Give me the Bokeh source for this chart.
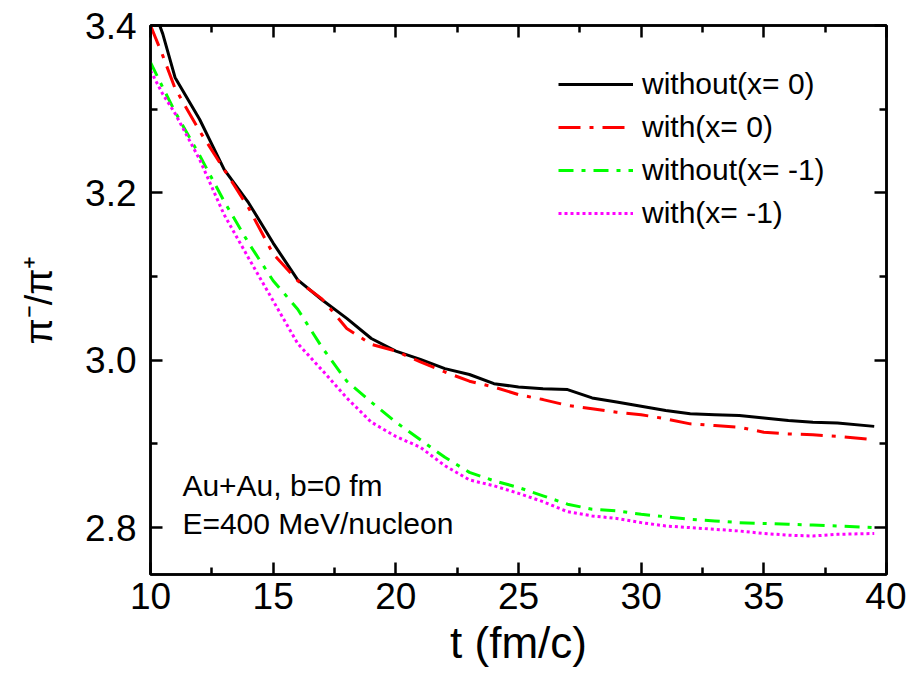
from bokeh.plotting import figure
from bokeh.models import (Range1d, FixedTicker, LinearAxis, Legend, LegendItem, Label,
                          CustomJSTickFormatter)
from bokeh.embed import file_html
from bokeh.resources import INLINE

t = [10, 10.5, 11, 12, 13, 14, 15, 16, 17, 18, 19, 20, 21, 22, 23, 24, 25, 26, 27, 28, 29,
     30, 31, 32, 33, 34, 35, 36, 37, 38, 39.5]
without_x0 = [3.43, 3.39, 3.338, 3.288, 3.228, 3.188, 3.14, 3.096, 3.072, 3.050, 3.026, 3.011,
              3.001, 2.990, 2.983, 2.972, 2.968, 2.966, 2.965, 2.955, 2.950, 2.945, 2.940, 2.936,
              2.935, 2.934, 2.931, 2.928, 2.926, 2.925, 2.921]
with_x0 = [3.40, 3.364, 3.325, 3.274, 3.228, 3.182, 3.127, 3.095, 3.073, 3.038, 3.019, 3.011,
           2.998, 2.986, 2.975, 2.968, 2.959, 2.953, 2.946, 2.942, 2.938, 2.935, 2.930, 2.924,
           2.922, 2.920, 2.914, 2.912, 2.911, 2.909, 2.905]
without_xm1 = [3.356, 3.326, 3.297, 3.245, 3.190, 3.140, 3.095, 3.061, 3.015, 2.975, 2.950, 2.926,
               2.905, 2.884, 2.866, 2.856, 2.848, 2.838, 2.828, 2.822, 2.820, 2.816, 2.813, 2.810,
               2.808, 2.806, 2.805, 2.804, 2.803, 2.802, 2.800]
with_xm1 = [3.346, 3.318, 3.295, 3.240, 3.174, 3.122, 3.071, 3.020, 2.988, 2.955, 2.926, 2.909,
            2.896, 2.874, 2.857, 2.850, 2.841, 2.831, 2.819, 2.814, 2.811, 2.806, 2.802, 2.800,
            2.798, 2.796, 2.793, 2.791, 2.790, 2.792, 2.793]

labels = ["without(x= 0)", "with(x= 0)", "without(x= -1)", "with(x= -1)"]
x_ticks = [10, 15, 20, 25, 30, 35, 40]
x_minor = [12.5, 17.5, 22.5, 27.5, 32.5, 37.5]
y_ticks = [2.8, 3.0, 3.2, 3.4]
y_minor = [2.9, 3.1, 3.3]
notes = ["Au+Au, b=0 fm", "E=400 MeV/nucleon"]

FONT = "Liberation Sans"

p = figure(width=906, height=676, output_backend="svg", toolbar_location=None,
           x_range=Range1d(10, 40), y_range=Range1d(2.744, 3.4),
           min_border_left=150, min_border_right=20, min_border_top=25, min_border_bottom=102)
p.xgrid.visible = False
p.ygrid.visible = False
p.outline_line_color = "black"
p.outline_line_width = 2.5
p.background_fill_color = "white"
p.border_fill_color = "white"

styles = [
    dict(color="black", line_width=3, line_dash="solid"),
    dict(color="#FF0000", line_width=3, line_dash="22 9 4 9"),
    dict(color="#00FF00", line_width=3, line_dash="15 8 4 8"),
    dict(color="#FF00FF", line_width=3, line_dash="3 3"),
]
series = [without_x0, with_x0, without_xm1, with_xm1]
renderers = []
for ys, st in zip(series, styles):
    r = p.line(t, ys, line_color=st["color"], line_width=st["line_width"], line_dash=st["line_dash"])
    renderers.append(r)

xt = FixedTicker(ticks=x_ticks, minor_ticks=x_minor)
yt = FixedTicker(ticks=y_ticks, minor_ticks=y_minor)

for ax in [p.xaxis[0], p.yaxis[0]]:
    ax.major_tick_in = 12
    ax.major_tick_out = 0
    ax.minor_tick_in = 7
    ax.minor_tick_out = 0
    ax.axis_line_width = 2.5
    ax.major_tick_line_width = 2.5
    ax.minor_tick_line_width = 2.5
    ax.major_label_text_font = FONT
    ax.major_label_text_font_size = "37px"
    ax.major_label_text_color = "black"
    ax.axis_label_text_font = FONT
    ax.axis_label_text_font_style = "normal"
    ax.axis_label_text_color = "black"

p.xaxis[0].ticker = xt
p.yaxis[0].ticker = yt
p.yaxis[0].major_label_overrides = {2.8: "2.8", 3.0: "3.0", 3.2: "3.2", 3.4: "3.4"}
p.xaxis[0].axis_label = "t (fm/c)"
p.xaxis[0].axis_label_text_font_size = "44px"
p.xaxis[0].major_label_standoff = 8
p.xaxis[0].axis_label_standoff = 6
p.yaxis[0].axis_label = "π⁻/π⁺"
p.yaxis[0].axis_label_text_font_size = "38px"
p.yaxis[0].major_label_standoff = 14
p.yaxis[0].axis_label_standoff = 22

for loc, tk in [("above", FixedTicker(ticks=x_ticks, minor_ticks=x_minor)),
                ("right", FixedTicker(ticks=y_ticks, minor_ticks=y_minor))]:
    ax = LinearAxis(ticker=tk, formatter=CustomJSTickFormatter(code="return '';"))
    ax.major_tick_in = 12
    ax.major_tick_out = 0
    ax.minor_tick_in = 7
    ax.minor_tick_out = 0
    ax.axis_line_width = 2.5
    ax.major_tick_line_width = 2.5
    ax.minor_tick_line_width = 2.5
    ax.major_label_text_font_size = "1px"
    ax.major_label_standoff = 0
    p.add_layout(ax, loc)

legend = Legend(items=[LegendItem(label=l, renderers=[r]) for l, r in zip(labels, renderers)],
                location=(408, 344), orientation="vertical")
legend.label_text_font = FONT
legend.label_text_font_size = "30px"
legend.label_text_color = "black"
legend.glyph_width = 75
legend.glyph_height = 30
legend.label_height = 30
legend.label_standoff = 9
legend.spacing = 9
legend.padding = 0
legend.margin = 0
legend.border_line_alpha = 0
legend.background_fill_alpha = 0
p.add_layout(legend, "center")

p.add_layout(Label(x=11.3, y=2.850, text=notes[0], text_font=FONT, text_font_size="30px",
                   text_baseline="middle", text_color="black"))
p.add_layout(Label(x=11.3, y=2.805, text=notes[1], text_font=FONT, text_font_size="30px",
                   text_baseline="middle", text_color="black"))

open("out.html", "w").write(file_html(p, INLINE))
